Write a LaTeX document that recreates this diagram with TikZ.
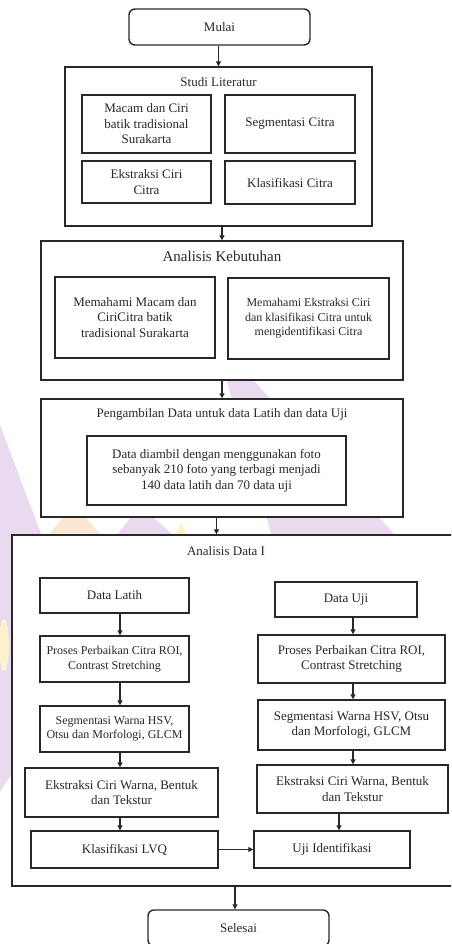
\documentclass[tikz,border=0pt]{standalone}
\usepackage{fontspec}
\setmainfont{Liberation Serif}
\usetikzlibrary{arrows.meta}
\definecolor{wmpurple}{RGB}{234,218,240}
\definecolor{wmyellow}{RGB}{252,243,205}
\definecolor{wmorange}{RGB}{251,232,210}
\definecolor{ink}{RGB}{40,40,40}
\begin{document}
\begin{tikzpicture}[x=1pt,y=-1pt,
  box/.style={draw=ink, line width=1.4pt, fill=white, inner sep=0pt,
    align=center, text=ink, font=\fontsize{13}{15.5}\selectfont},
  smallbox/.style={box, font=\fontsize{12}{14.5}\selectfont},
  title/.style={inner sep=0pt, text=ink, font=\fontsize{13}{15.5}\selectfont},
  arr/.style={draw=ink, line width=1.2pt, -{Triangle[length=5pt,width=5pt]}}]
\useasboundingbox (0,0) rectangle (451,944);
\clip (0,0) rectangle (451,944);
\fill[white] (0,0) rectangle (451,944);

% faint logo shapes in the background
\fill[wmpurple] (224,372) -- (246,372) -- (396,536) -- (272,536) -- cycle;
\fill[wmpurple] (0,425) -- (42,536) -- (13,536) -- (13,772) -- (0,792) -- cycle;
\fill[wmyellow] (4,645) ellipse [x radius=5, y radius=26];
\fill[wmorange] (48,536) -- (102,536) -- (86,518) -- (62,518) -- cycle;
\fill[wmpurple] (116,536) -- (174,536) -- (152,516) -- (132,516) -- cycle;
\fill[wmyellow] (174,536) -- (187,536) -- (181,522) -- cycle;

% start
\node[box, rounded corners=6pt, minimum width=181pt, minimum height=36pt] (mulai) at (219.5,27) {Mulai};

% literature study
\node[box, minimum width=307pt, minimum height=159pt] (studi) at (218.5,146.5) {};
\node[title] (studiT) at (218.5,82) {Studi Literatur};
\node[box, minimum width=129pt, minimum height=58pt] (s1) at (146.5,124) {Macam dan Ciri\\batik tradisional\\Surakarta};
\node[box, minimum width=130pt, minimum height=58pt] (s2) at (290,124) {Segmentasi Citra};
\node[box, minimum width=129pt, minimum height=42pt] (s3) at (146.5,182) {Ekstraksi Ciri\\Citra};
\node[box, minimum width=130pt, minimum height=43pt] (s4) at (290,182.5) {Klasifikasi Citra};

% needs analysis
\node[box, minimum width=362pt, minimum height=139pt] (keb) at (222,310.5) {};
\node[title, font=\fontsize{15}{18}\selectfont] (kebT) at (222,256) {Analisis Kebutuhan};
\node[box, minimum width=160pt, minimum height=81pt] (k1) at (135,317.5) {Memahami Macam dan\\CiriCitra batik\\tradisional Surakarta};
\node[smallbox, minimum width=161pt, minimum height=81pt] (k2) at (308.5,318.5) {Memahami Ekstraksi Ciri\\dan klasifikasi Citra untuk\\mengidentifikasi Citra};

% data collection
\node[box, minimum width=362pt, minimum height=118pt] (ambil) at (222,458) {};
\node[title] (ambilT) at (222,414) {Pengambilan Data untuk data Latih dan data Uji};
\node[box, minimum width=259pt, minimum height=69pt] (a1) at (216.5,470.5) {Data diambil dengan menggunakan foto\\sebanyak 210 foto yang terbagi menjadi\\140 data latih dan 70 data uji};

% data analysis
\node[box, minimum width=458pt, minimum height=351pt] (datai) at (241,710.5) {};
\node[title] (dataiT) at (226,551) {Analisis Data I};

\node[box, minimum width=149pt, minimum height=35pt] (l1) at (114.5,595.5) {Data Latih};
\node[smallbox, minimum width=149pt, minimum height=46pt] (l2) at (114.5,659) {Proses Perbaikan Citra ROI,\\Contrast Stretching};
\node[smallbox, minimum width=149pt, minimum height=46pt] (l3) at (114.5,729) {Segmentasi Warna HSV,\\Otsu dan Morfologi, GLCM};
\node[box, minimum width=193pt, minimum height=49pt] (l4) at (121.5,792.5) {Ekstraksi Ciri Warna, Bentuk\\dan Tekstur};
\node[box, minimum width=187pt, minimum height=37pt] (l5) at (124.5,849.5) {Klasifikasi LVQ};

\node[box, minimum width=142pt, minimum height=35pt] (r1) at (346,599.5) {Data Uji};
\node[box, minimum width=187pt, minimum height=48pt] (r2) at (351.5,659) {Proses Perbaikan Citra ROI,\\Contrast Stretching};
\node[box, minimum width=187pt, minimum height=50pt] (r3) at (351.5,725) {Segmentasi Warna HSV, Otsu\\dan Morfologi, GLCM};
\node[box, minimum width=191pt, minimum height=48pt] (r4) at (352.5,789) {Ekstraksi Ciri Warna, Bentuk\\dan Tekstur};
\node[box, minimum width=156pt, minimum height=37pt] (r5) at (332,849.5) {Uji Identifikasi};

% end
\node[box, rounded corners=6pt, minimum width=181pt, minimum height=36pt] (selesai) at (238.5,928) {Selesai};

% connector columns
\coordinate (lx) at (120,0);
\coordinate (rx) at (353,0);
\coordinate (ux) at (339,0);
\coordinate (ex) at (235,0);

\draw[arr] (mulai.south -| studiT) -- (studi.north -| studiT);
\draw[arr] (studi.south -| keb) -- (keb.north);
\draw[arr] (keb.south) -- (ambil.north);
\draw[arr] (ambil.south -| a1) -- (datai.north -| a1);

\draw[arr] (l1.south -| lx) -- (l2.north -| lx);
\draw[arr] (l2.south -| lx) -- (l3.north -| lx);
\draw[arr] (l3.south -| lx) -- (l4.north -| lx);
\draw[arr] (l4.south -| lx) -- (l5.north -| lx);

\draw[arr] (r1.south -| rx) -- (r2.north -| rx);
\draw[arr] (r2.south -| rx) -- (r3.north -| rx);
\draw[arr] (r3.south -| rx) -- (r4.north -| rx);
\draw[arr] (r4.south -| ux) -- (r5.north -| ux);

\draw[arr] (l5.east) -- (r5.west);
\draw[arr] (datai.south -| ex) -- (selesai.north -| ex);
\end{tikzpicture}
\end{document}
